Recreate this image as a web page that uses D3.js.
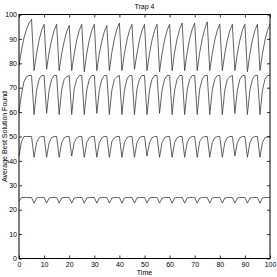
<!DOCTYPE html>
<html>
<head>
<meta charset="utf-8">
<script src="https://cdn.jsdelivr.net/npm/d3@7"></script>
<style>
  html, body { margin: 0; padding: 0; background: #fff; }
  svg text { font-family: "Liberation Sans", Arial, sans-serif; fill: #000; }
</style>
</head>
<body>
<div id="chart"></div>
<script>
// Axis ticks, shared by x and y (Time 0..100, value 0..100).
const xTicks = [0, 10, 20, 30, 40, 50, 60, 70, 80, 90, 100];
const yTicks = [0, 10, 20, 30, 40, 50, 60, 70, 80, 90, 100];

// Sample times for every series.
const times = d3.range(0, 101);

// Average best solution, one value per time step.
const trap100 = [
  79, 85.5, 90.5, 94, 96.5, 98,
  77, 84, 89.5, 93.5, 96,
  77.5, 84.5, 89.5, 93.5, 96,
  77, 84, 89, 93, 95.5,
  77, 84, 89.5, 93.5, 96,
  76.5, 84, 89.5, 93.5, 96,
  77, 84, 89, 93, 95.5,
  77, 84.5, 90, 94, 96.5,
  77, 84, 89.5, 93.5, 96,
  77.5, 84, 89.5, 93.5, 96,
  77, 84, 89.5, 93.5, 96,
  76.5, 84, 89.5, 93.5, 96,
  77, 84.5, 90, 94, 96.5,
  77, 84.5, 90, 94, 96.5,
  77, 84.5, 90, 94, 97,
  77, 84, 89.5, 93.5, 96,
  77, 84, 89.5, 93.5, 96,
  77, 84, 89.5, 93.5, 96,
  76.5, 84, 89.5, 93.5, 96,
  77, 84, 89.5, 93.5, 96
];
const trap75 = [
  60, 67.5, 72.5, 74.5, 75, 75,
  59, 69, 73.5, 75, 75,
  59.5, 69, 73.5, 75, 75,
  59, 69, 73.5, 74.5, 75,
  59, 69.5, 73.5, 75, 75,
  59, 69, 73.5, 75, 75,
  59.5, 69, 73.5, 75, 75,
  59, 69, 73.5, 74.5, 75,
  59, 69, 73.5, 75, 75,
  59, 69.5, 73.5, 75, 75,
  59, 69, 73.5, 75, 75,
  59.5, 69, 73.5, 75, 75,
  59, 69, 73.5, 75, 75,
  59, 69, 73.5, 75, 75,
  59, 69.5, 73.5, 75, 75,
  59, 69, 73.5, 75, 75,
  59, 69, 73.5, 74.5, 75,
  59.5, 69, 73.5, 75, 75,
  59, 69, 73.5, 75, 75,
  59, 69, 73.5, 75, 75
];
const trap50 = [
  42, 48, 50, 50, 50, 50,
  41.5, 47.5, 49.5, 50, 50,
  41.5, 47.5, 49.5, 50, 50,
  41.5, 47.5, 49.5, 50, 50,
  42, 47.5, 49.5, 50, 50,
  41.5, 47.5, 49.5, 50, 50,
  41.5, 47.5, 49.5, 50, 50,
  41.5, 48, 49.5, 50, 50,
  41.5, 47.5, 49.5, 50, 50,
  41.5, 47.5, 49.5, 50, 50,
  42, 47.5, 49.5, 50, 50,
  41.5, 47.5, 49.5, 50, 50,
  41.5, 47.5, 49.5, 50, 50,
  41.5, 47.5, 49.5, 50, 50,
  41.5, 48, 49.5, 50, 50,
  41.5, 47.5, 49.5, 50, 50,
  41.5, 47.5, 49.5, 50, 50,
  42, 47.5, 49.5, 50, 50,
  41.5, 47.5, 49.5, 50, 50,
  41.5, 47.5, 49.5, 50, 50
];
const trap25 = [
  23.5, 25, 25, 25, 25, 25,
  22.7, 24.8, 25, 25, 25,
  22.7, 24.8, 25, 25, 25,
  22.7, 24.8, 25, 25, 25,
  22.7, 24.8, 25, 25, 25,
  22.7, 24.8, 25, 25, 25,
  22.7, 24.8, 25, 25, 25,
  22.7, 24.8, 25, 25, 25,
  22.7, 24.8, 25, 25, 25,
  22.7, 24.8, 25, 25, 25,
  22.7, 24.8, 25, 25, 25,
  22.7, 24.8, 25, 25, 25,
  22.7, 24.8, 25, 25, 25,
  22.7, 24.8, 25, 25, 25,
  22.7, 24.8, 25, 25, 25,
  22.7, 24.8, 25, 25, 25,
  22.7, 24.8, 25, 25, 25,
  22.7, 24.8, 25, 25, 25,
  22.7, 24.8, 25, 25, 25,
  22.7, 24.8, 25, 25, 25
];
const seriesList = [trap100, trap75, trap50, trap25];

const width = 277, height = 277;
const margin = { top: 14.5, right: 7, bottom: 18.5, left: 19 };

const svg = d3.select('#chart').append('svg')
  .attr('width', width)
  .attr('height', height);

const x = d3.scaleLinear().domain([0, 100]).range([margin.left, width - margin.right]);
const y = d3.scaleLinear().domain([0, 100]).range([height - margin.bottom, margin.top]);

const line = d3.line()
  .x((_d, i) => x(times[i]))
  .y(d => y(d));

svg.append('g')
  .selectAll('path')
  .data(seriesList)
  .join('path')
  .attr('d', line)
  .attr('fill', 'none')
  .attr('stroke', '#3a3a3a')
  .attr('stroke-width', 0.8)
  .attr('stroke-linejoin', 'round');

// MATLAB-style box with inward ticks on all four sides.
function styleAxis(g) {
  g.selectAll('.tick line').attr('stroke', '#000').attr('stroke-width', 0.8);
  g.selectAll('.tick text').attr('font-size', 7);
  g.select('.domain').remove();
}

svg.append('g')
  .attr('transform', `translate(0,${y(0)})`)
  .call(d3.axisBottom(x).tickValues(xTicks).tickSize(-3).tickPadding(4))
  .call(styleAxis);

svg.append('g')
  .attr('transform', `translate(0,${y(100)})`)
  .call(d3.axisTop(x).tickValues(xTicks).tickSize(-3).tickFormat(''))
  .call(styleAxis);

svg.append('g')
  .attr('transform', `translate(${x(0)},0)`)
  .call(d3.axisLeft(y).tickValues(yTicks).tickSize(-3).tickPadding(2))
  .call(styleAxis);

svg.append('g')
  .attr('transform', `translate(${x(100)},0)`)
  .call(d3.axisRight(y).tickValues(yTicks).tickSize(-3).tickFormat(''))
  .call(styleAxis);

svg.append('rect')
  .attr('x', x(0))
  .attr('y', y(100))
  .attr('width', x(100) - x(0))
  .attr('height', y(0) - y(100))
  .attr('fill', 'none')
  .attr('stroke', '#000')
  .attr('stroke-width', 1);

svg.append('text')
  .attr('x', (x(0) + x(100)) / 2)
  .attr('y', 9)
  .attr('text-anchor', 'middle')
  .attr('font-size', 7)
  .text('Trap 4');

svg.append('text')
  .attr('x', (x(0) + x(100)) / 2)
  .attr('y', 275)
  .attr('text-anchor', 'middle')
  .attr('font-size', 7)
  .text('Time');

svg.append('text')
  .attr('transform', `translate(7,${(y(0) + y(100)) / 2}) rotate(-90)`)
  .attr('text-anchor', 'middle')
  .attr('font-size', 7)
  .text('Average Best Solution Found');
</script>
</body>
</html>
